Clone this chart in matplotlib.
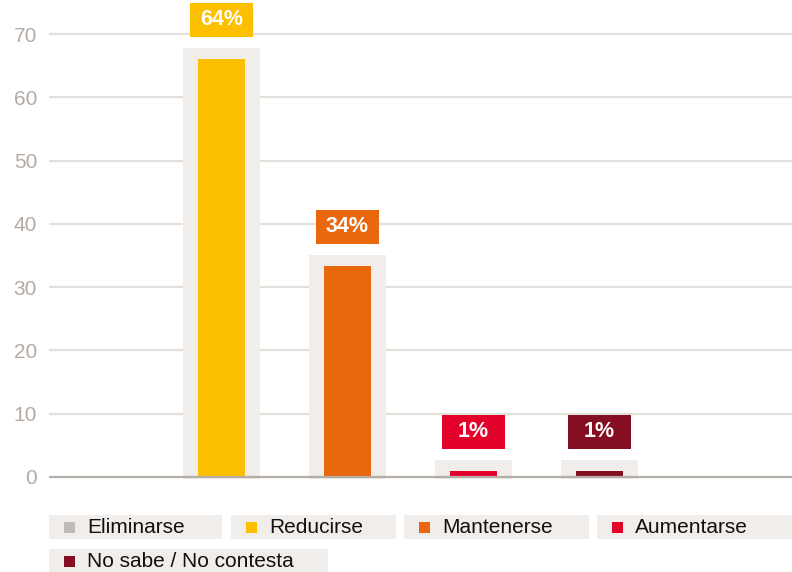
import matplotlib
matplotlib.use("Agg")
import matplotlib.pyplot as plt
from matplotlib.patches import Rectangle

plt.rcParams['font.family'] = ['Liberation Sans', 'DejaVu Sans']

# ---- data ----
categories = ['Eliminarse', 'Reducirse', 'Mantenerse', 'Aumentarse', 'No sabe / No contesta']
values = [0, 66, 33.3, 0.95, 0.95]
labels = ['', '64%', '34%', '1%', '1%']
colors = ['#c3bbb5', '#fcc000', '#e9680e', '#e3002b', '#850f22']
yticks = [0, 10, 20, 30, 40, 50, 60, 70]

W, H = 792, 572
fig = plt.figure(figsize=(W / 100, H / 100), dpi=100)

# axes placed in pixel terms
ax_left, ax_right, ax_top, ax_bottom = 49, 792, 0, 487
ax = fig.add_axes([ax_left / W, (H - ax_bottom) / H, (ax_right - ax_left) / W, (ax_bottom - ax_top) / H])
px_per_unit = 443 / 70
ax.set_ylim(-(ax_bottom - 477) / px_per_unit, (477 - ax_top) / px_per_unit)
ax.set_xlim((ax_left - 95.5) / 126, (ax_right - 95.5) / 126)

grid_c = '#e3dfda'
for t in yticks[1:]:
    ax.axhline(t, color=grid_c, lw=1.6, zorder=1)
ax.axhline(0, color='#b5aea8', lw=1.6, zorder=5)

bg_c = '#f0edea'
bar_w = 47 / 126
bg_w = 77 / 126
box_w = 63 / 126
box_h = 34 / px_per_unit
for i, (v, lab, c) in enumerate(zip(values, labels, colors)):
    if v <= 0:
        continue
    ax.bar(i, v + 2.05, bottom=-0.3, width=bg_w, color=bg_c, zorder=2)
    ax.bar(i, v, width=bar_w, color=c, zorder=3)
    yb = v + 1.75 + 1.8
    ax.add_patch(Rectangle((i - box_w / 2, yb), box_w, box_h, facecolor=c, edgecolor='none', zorder=4))
    ax.text(i, yb + box_h / 2, lab, ha='center', va='center', color='white',
            fontsize=15.5, fontweight='bold', zorder=6)

ax.set_yticks(yticks)
ax.set_yticklabels([str(t) for t in yticks])
ax.tick_params(axis='y', length=0, pad=8.6, labelsize=15, labelcolor='#b3aba4')
ax.set_xticks([])
for s in ax.spines.values():
    s.set_visible(False)
ax.patch.set_alpha(0)

# ---- legend (manual, pixel layout) ----
def fx(x):
    return x / W

def fy(y):
    return 1 - y / H

legend_boxes = [(49, 515, 173), (231, 515, 165), (404, 515, 185), (597, 515, 195), (49, 549, 279)]
row_h = 24
for (bx, by, bw), name, c in zip(legend_boxes, categories, colors):
    fig.patches.append(Rectangle((fx(bx), fy(by + row_h)), bw / W, row_h / H,
                                 transform=fig.transFigure, facecolor=bg_c, edgecolor='none'))
    fig.patches.append(Rectangle((fx(bx + 15), fy(by + 18)), 11 / W, 11 / H,
                                 transform=fig.transFigure, facecolor=c, edgecolor='none'))
    fig.text(fx(bx + 38), fy(by + 12.5), name, ha='left', va='center', fontsize=15, color='#111111')

fig.savefig('out.png', dpi=100)
